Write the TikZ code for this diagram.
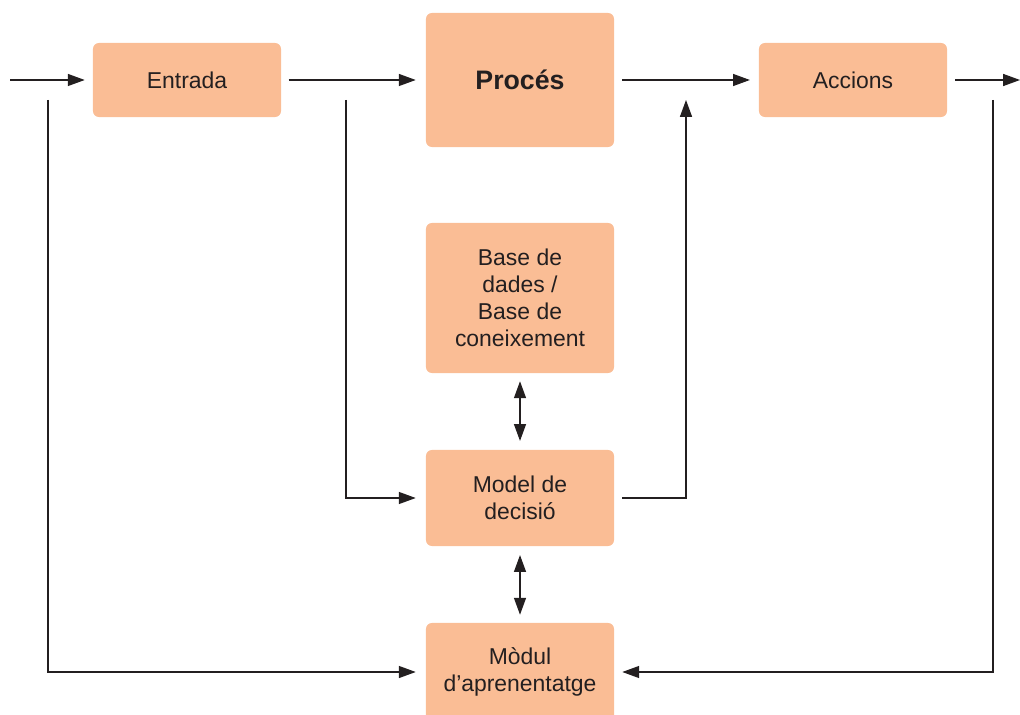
\documentclass[tikz,border=0pt]{standalone}
\usepackage{fontspec}
\setmainfont{Liberation Sans}
\usetikzlibrary{arrows.meta}
\definecolor{boxfill}{HTML}{FABD95}
\definecolor{ink}{HTML}{231F20}
\begin{document}
\begin{tikzpicture}[x=0.025cm,y=-0.025cm,
  box/.style={fill=boxfill,draw=none,rounded corners=0.15cm,minimum width=4.7cm,
    align=center,text=ink,font=\fontsize{16.3}{19.2}\selectfont,inner sep=0pt},
  arr/.style={draw=ink,line width=0.8pt,-{Triangle[length=0.42cm,width=0.3cm]}},
  darr/.style={draw=ink,line width=0.8pt,{Triangle[length=0.42cm,width=0.3cm]}-{Triangle[length=0.42cm,width=0.3cm]}},
  ln/.style={draw=ink,line width=0.8pt}]
\useasboundingbox (0,0) rectangle (1020,715);
\node[box,minimum height=1.85cm] (entrada) at (187,80) {Entrada};
\node[box,minimum height=3.35cm,font=\fontsize{19}{22}\selectfont\bfseries] (proces) at (520,80) {Procés};
\node[box,minimum height=1.85cm] (accions) at (853,80) {Accions};
\node[box,minimum height=3.75cm] (base) at (520,298) {Base de\\dades /\\Base de\\coneixement};
\node[box,minimum height=2.4cm] (model) at (520,498) {Model de\\decisió};
\node[box,minimum height=2.45cm] (modul) at (520,672) {Mòdul\\d’aprenentatge};
% free ends
\coordinate (in) at (10,80);
\coordinate (out) at (1020,80);
\coordinate (a1) at (346,100);
\coordinate (a2) at (48,100);
\coordinate (a3) at (686,100);
\coordinate (a4) at (993,100);
% top row
\draw[arr,shorten >=0.2cm] (in) -- (entrada.west);
\draw[arr,shorten <=0.18cm,shorten >=0.25cm] (entrada.east) -- (proces.west);
\draw[arr,shorten <=0.2cm,shorten >=0.22cm] (proces.east) -- (accions.west);
\draw[arr,shorten <=0.2cm] (accions.east) -- (out);
% feedback / feed lines
\draw[arr,shorten >=0.25cm] (a1) |- (model.west);
\draw[arr,shorten >=0.25cm] (a2) |- (modul.west);
\draw[arr,shorten <=0.2cm] (model.east) -| (a3);
\draw[arr,shorten >=0.2cm] (a4) |- (modul.east);
% double arrows
\draw[darr,shorten <=0.2cm,shorten >=0.22cm] (base.south) -- (model.north);
\draw[darr,shorten <=0.22cm,shorten >=0.2cm] (model.south) -- (modul.north);
\end{tikzpicture}
\end{document}
